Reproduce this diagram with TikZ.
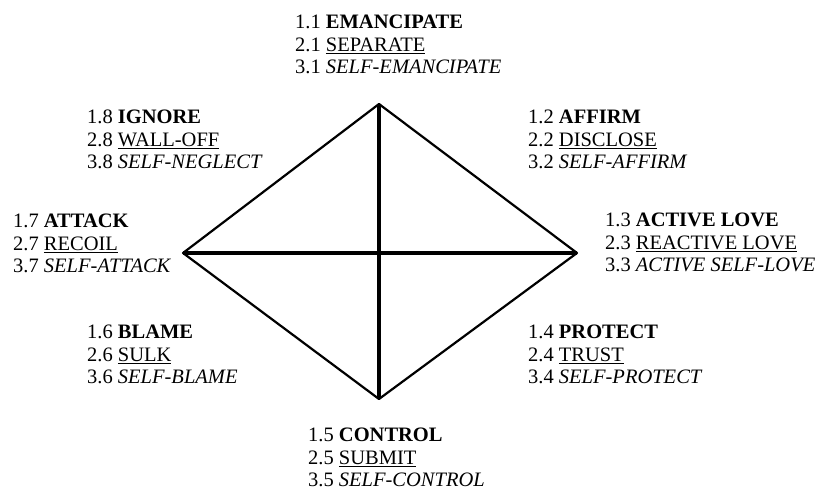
\documentclass[tikz,border=0pt]{standalone}
\usepackage{fontspec}
\setmainfont{Liberation Serif}
\usepackage{tikz}

\begin{document}
\begin{tikzpicture}[x=1pt,y=-1pt]
						\tikzstyle{block}=[anchor=north west,align=left,inner sep=0pt,font=\fontsize{20.5}{22.5}\selectfont]
						\tikzstyle{corner}=[inner sep=0pt,minimum size=0pt]
						\useasboundingbox (0,0) rectangle (818,492);
						\node[corner] (t) at (379,104) {};
						\node[corner] (r) at (577,253) {};
						\node[corner] (b) at (379,399) {};
						\node[corner] (l) at (183,253) {};
						\node[block] (1) at (295,15) {1.1 \textbf{EMANCIPATE}\\2.1 \underline{SEPARATE}\\3.1 \textit{SELF-EMANCIPATE}};
						\node[block] (2) at (528,110) {1.2 \textbf{AFFIRM}\\2.2 \underline{DISCLOSE}\\3.2 \textit{SELF-AFFIRM}};
						\node[block] (3) at (605,213) {1.3 \textbf{ACTIVE LOVE}\\2.3 \underline{REACTIVE LOVE}\\3.3 \textit{ACTIVE SELF-LOVE}};
						\node[block] (4) at (528,325) {1.4 \textbf{PROTECT}\\2.4 \underline{TRUST}\\3.4 \textit{SELF-PROTECT}};
						\node[block] (5) at (308,428) {1.5 \textbf{CONTROL}\\2.5 \underline{SUBMIT}\\3.5 \textit{SELF-CONTROL}};
						\node[block] (6) at (87,325) {1.6 \textbf{BLAME}\\2.6 \underline{SULK}\\3.6 \textit{SELF-BLAME}};
						\node[block] (7) at (13,214) {1.7 \textbf{ATTACK}\\2.7 \underline{RECOIL}\\3.7 \textit{SELF-ATTACK}};
						\node[block] (8) at (87,110) {1.8 \textbf{IGNORE}\\2.8 \underline{WALL-OFF}\\3.8 \textit{SELF-NEGLECT}};
						\draw[line width=2.2pt,line join=round] (t.center) -- (r.center) -- (b.center) -- (l.center) -- cycle;
						\draw[line width=3.2pt] (t.center) -- (b.center);
						\draw[line width=3.2pt] (l.center) -- (r.center);
						\end{tikzpicture}
\end{document}
